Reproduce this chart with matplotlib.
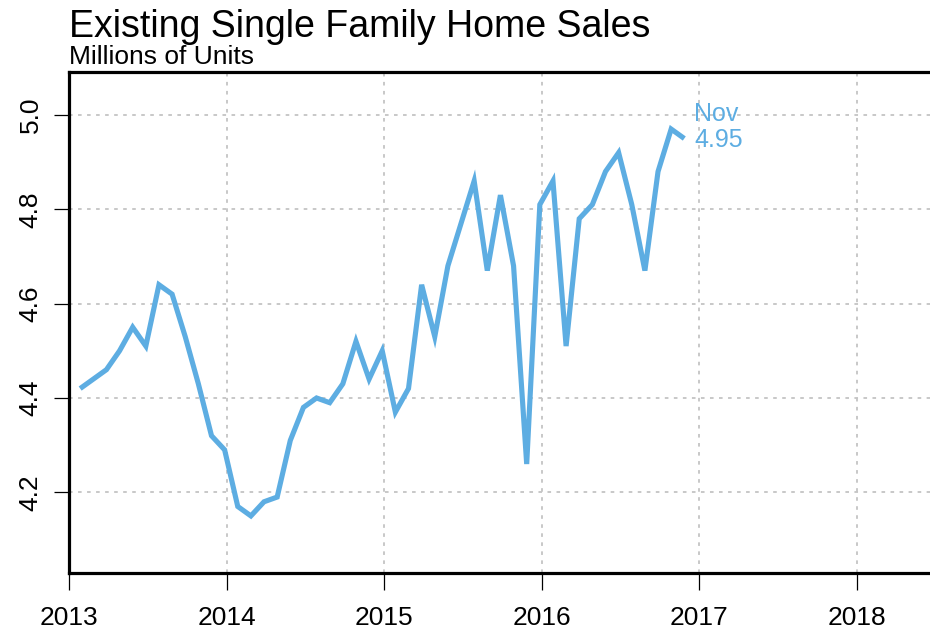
import matplotlib
matplotlib.use("Agg")
import matplotlib.pyplot as plt
import numpy as np

# Data: monthly existing single family home sales (millions), Jan 2013 - Nov 2016
years = [2013] * 12 + [2014] * 12 + [2015] * 12 + [2016] * 11
months = list(range(1, 13)) * 3 + list(range(1, 12))
sales = [4.42, 4.44, 4.46, 4.50, 4.55, 4.51, 4.64, 4.62, 4.53, 4.43, 4.32, 4.29,
         4.17, 4.15, 4.18, 4.19, 4.31, 4.38, 4.40, 4.39, 4.43, 4.52, 4.44, 4.50,
         4.37, 4.42, 4.64, 4.53, 4.68, 4.77, 4.86, 4.67, 4.83, 4.68, 4.26, 4.81,
         4.86, 4.51, 4.78, 4.81, 4.88, 4.92, 4.81, 4.67, 4.88, 4.97, 4.95]
x_ticks = [2013, 2014, 2015, 2016, 2017, 2018]
y_ticks = [4.2, 4.4, 4.6, 4.8, 5.0]
last_label = "Nov"

plt.rcParams['font.family'] = ['Liberation Sans', 'DejaVu Sans']

color = '#5DADE2'
W, H = 930, 636
fig = plt.figure(figsize=(W / 100, H / 100), dpi=100)
ax = fig.add_axes([69 / W, 1 - 573 / H, (930 - 69) / W, (573 - 72) / H])

# decimal date positions (late in each month)
xs = np.array(years) + (np.array(months) - 0.15) / 12.0
ax.plot(xs, sales, color=color, lw=3.7, solid_joinstyle='miter', solid_capstyle='butt', zorder=3)

ax.set_xlim(2013, 2013 + 861 / 157.6)
ax.set_ylim(4.029, 5.091)
ax.set_xticks(x_ticks)
ax.set_xticklabels([str(t) for t in x_ticks], fontsize=19)
ax.set_yticks(y_ticks)
ax.set_yticklabels([f"{t:.1f}" for t in y_ticks], fontsize=19, rotation=90, va='center')

ax.grid(True, color='#c4c4c4', linestyle=(0, (2.0, 3.0)), linewidth=1.3)
ax.tick_params(axis='x', length=12, width=0.9, pad=12, colors='black')
ax.tick_params(axis='y', length=11, width=0.9, pad=8, colors='black')

for s in ['left', 'bottom', 'top']:
    ax.spines[s].set_linewidth(2.3)
ax.spines['right'].set_visible(False)

ax.annotate(f"{last_label}\n{sales[-1]:.2f}", xy=(xs[-1], sales[-1]), xytext=(7, 8),
            textcoords='offset points', color=color, fontsize=18, va='center', ha='left',
            linespacing=1.1)

fig.text(69 / W, 1 - 37 / H, "Existing Single Family Home Sales", fontsize=27,
         ha='left', va='baseline')
fig.text(69 / W, 1 - 64 / H, "Millions of Units", fontsize=19, ha='left', va='baseline')

fig.savefig("out.png", dpi=100)
